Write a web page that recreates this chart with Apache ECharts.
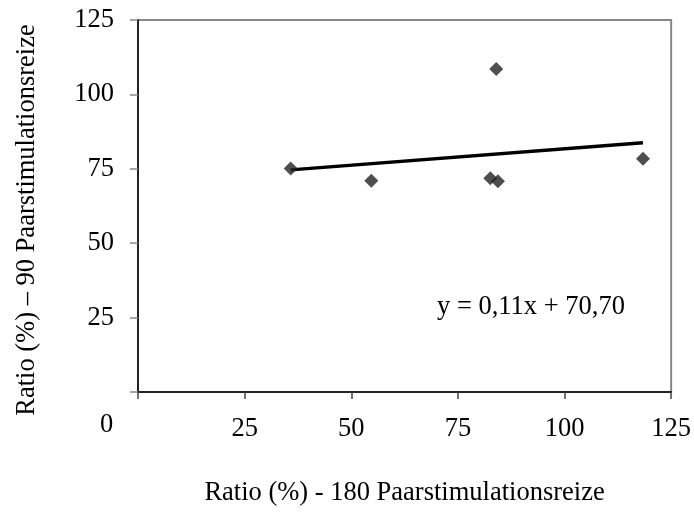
<!DOCTYPE html>
<html>
<head>
<meta charset="utf-8">
<script src="https://cdn.jsdelivr.net/npm/echarts@6/dist/echarts.min.js"></script>
<style>
  html, body { margin: 0; padding: 0; background: #fff; }
  #chart { width: 694px; height: 512px; }
</style>
</head>
<body>
<div id="chart"></div>
<script>
// Paired-pulse ratios: 180 vs 90 stimuli
const ratio180 = [35.8, 54.7, 82.6, 84.4, 84.0, 118.4];
const ratio90 = [75.1, 71.0, 71.8, 70.8, 108.5, 78.4];
const xTicks = [0, 25, 50, 75, 100, 125];
const yTicks = [0, 25, 50, 75, 100, 125];
const slope = 0.11;
const intercept = 70.70;

const xTitle = 'Ratio (%) - 180 Paarstimulationsreize';
const yTitle = 'Ratio (%) \u2013 90 Paarstimulationsreize';
const eqText = 'y = 0,11x + 70,70';

const FONT = 'Liberation Serif';
const FS = 26.5;
const fontStr = FS + 'px "' + FONT + '"';
const points = ratio180.map((x, i) => [x, ratio90[i]]);
const xLo = Math.min(...ratio180), xHi = Math.max(...ratio180);
const trend = [[xLo, slope * xLo + intercept], [xHi, slope * xHi + intercept]];

const chart = echarts.init(document.getElementById('chart'));
chart.setOption({
  animation: false,
  backgroundColor: '#fff',
  grid: {
    left: 138, right: 22, top: 20, bottom: 118,
    show: true, borderColor: '#888', borderWidth: 2, backgroundColor: 'transparent'
  },
  xAxis: {
    type: 'value', min: xTicks[0], max: xTicks[xTicks.length - 1], interval: 25,
    splitLine: { show: false },
    axisLine: { lineStyle: { color: '#222', width: 2 } },
    axisTick: { show: true, length: 7, lineStyle: { color: '#444', width: 1.5 } },
    axisLabel: {
      margin: 24, color: '#000', fontFamily: FONT, fontSize: FS,
      formatter: v => (v === 0 ? '' : String(v))
    },
    name: xTitle, nameLocation: 'middle', nameGap: 88,
    nameTextStyle: { color: '#000', fontFamily: FONT, fontSize: FS }
  },
  yAxis: {
    type: 'value', min: yTicks[0], max: yTicks[yTicks.length - 1], interval: 25,
    splitLine: { show: false },
    axisLine: { show: true, lineStyle: { color: '#222', width: 2 } },
    axisTick: { show: true, length: 8, lineStyle: { color: '#888', width: 1.5 } },
    axisLabel: {
      margin: 24, color: '#000', fontFamily: FONT, fontSize: FS,
      formatter: v => (v === 0 ? '' : String(v))
    }
  },
  graphic: [
    { type: 'text', left: 100, top: 412, style: { text: '0', font: fontStr, fill: '#000' } },
    { type: 'text', left: 437, top: 294, style: { text: eqText, font: fontStr, fill: '#000' } },
    {
      type: 'text', x: 27, y: 220, rotation: Math.PI / 2,
      style: { text: yTitle, font: fontStr, fill: '#000', align: 'center', verticalAlign: 'middle' }
    }
  ],
  series: [
    {
      type: 'line', data: trend, showSymbol: false, symbol: 'none',
      lineStyle: { color: '#000', width: 3.5 }, z: 2
    },
    {
      type: 'scatter', data: points, symbol: 'diamond', symbolSize: 14,
      itemStyle: { color: '#222' }, z: 3
    }
  ]
});
</script>
</body>
</html>
